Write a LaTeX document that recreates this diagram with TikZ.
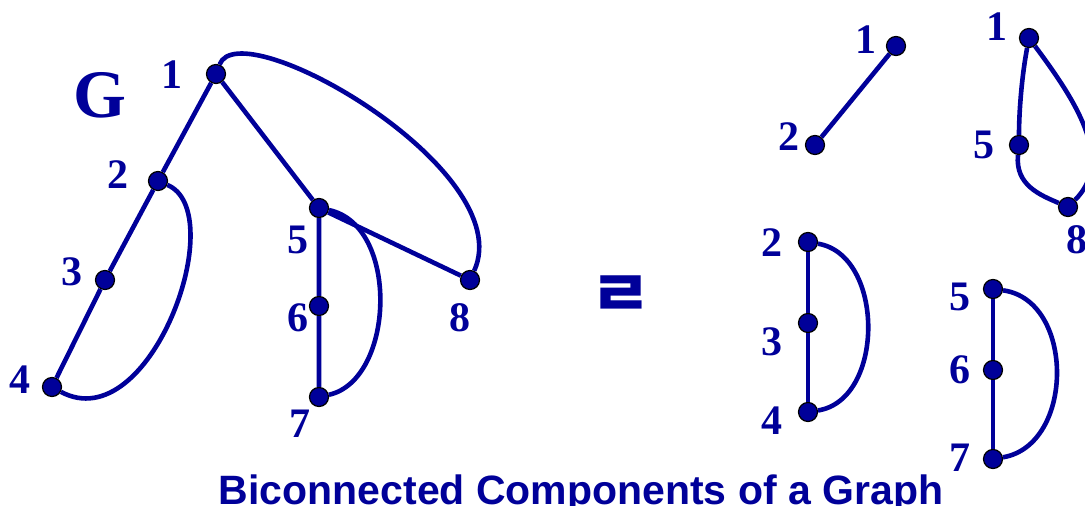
\documentclass[tikz,border=0pt]{standalone}
\usepackage{fontspec}
\setmainfont{Liberation Serif}
\setsansfont{Liberation Sans}
\newfontfamily\krfont{Noto Sans CJK KR}
\usetikzlibrary{positioning}
\definecolor{gblue}{RGB}{0,0,153}
\tikzset{
  vertex/.style={circle, draw=black, line width=1.2pt, fill=gblue, inner sep=0pt, minimum size=19pt},
  edge/.style={gblue, line width=4.6pt},
  num/.style={text=gblue, inner sep=0pt, font=\fontsize{42}{42}\selectfont\bfseries},
  bigname/.style={text=gblue, inner sep=0pt, font=\fontsize{68}{68}\selectfont\bfseries},
  caption/.style={text=gblue, inner sep=0pt, font=\fontsize{41}{41}\selectfont\sffamily\bfseries}
}
\begin{document}
\begin{tikzpicture}[x=1pt,y=-1pt]
  \useasboundingbox (0,0) rectangle (1085,506);
  % the graph G
  \node[bigname] (gname) at (100,95) {G};
  \node[vertex] (a1) at (216,74) {};
  \node[vertex] (a2) at (158,181) {};
  \node[vertex] (a3) at (105,280) {};
  \node[vertex] (a4) at (52,387) {};
  \node[vertex] (a5) at (319,208) {};
  \node[vertex] (a6) at (319,306) {};
  \node[vertex] (a7) at (319,397) {};
  \node[vertex] (a8) at (470,280) {};
  \draw[edge] (a1) -- (a2) -- (a3) -- (a4);
  \draw[edge] (a1) -- (a5) -- (a6) -- (a7);
  \draw[edge] (a5) -- (a8);
  \draw[edge] (a1) .. controls (240,10) and (520,170) .. (a8);
  \draw[edge] (a2) .. controls (232,212) and (150,440) .. (a4);
  \draw[edge] (a5) .. controls (400,225) and (395,380) .. (a7);
  \node[num] (la1) at (172,75) {1};
  \node[num] (la2) at (118,175) {2};
  \node[num] (la3) at (72,272) {3};
  \node[num] (la4) at (20,380) {4};
  \node[num] (la5) at (298,240) {5};
  \node[num] (la6) at (298,318) {6};
  \node[num] (la7) at (300,424) {7};
  \node[num] (la8) at (460,318) {8};
  % the sign in between
  \node[text=gblue, inner sep=0pt, xscale=1.05, font=\krfont\fontsize{64}{64}\selectfont\bfseries] (sign) at (621,297) {ㄹ};
  % component {1,2}
  \node[vertex] (b1) at (896,46) {};
  \node[vertex] (b2) at (815,145) {};
  \draw[edge] (b1) -- (b2);
  \node[num] (lb1) at (866,40) {1};
  \node[num] (lb2) at (789,137) {2};
  % component {1,5,8}
  \node[vertex] (c1) at (1029,38) {};
  \node[vertex] (c5) at (1019,145) {};
  \node[vertex] (c8) at (1068,207) {};
  \draw[edge] (c1) .. controls (1022,75) and (1019,110) .. (c5);
  \draw[edge] (c5) .. controls (1015,185) and (1040,195) .. (c8);
  \draw[edge] (c1) .. controls (1075,100) and (1115,160) .. (c8);
  \node[num] (lc1) at (997,27) {1};
  \node[num] (lc5) at (984,145) {5};
  \node[num] (lc8) at (1077,240) {8};
  % component {2,3,4}
  \node[vertex] (d2) at (808,242) {};
  \node[vertex] (d3) at (808,323) {};
  \node[vertex] (d4) at (808,412) {};
  \draw[edge] (d2) -- (d3) -- (d4);
  \draw[edge] (d2) .. controls (885,255) and (885,400) .. (d4);
  \node[num] (ld2) at (772,243) {2};
  \node[num] (ld3) at (772,342) {3};
  \node[num] (ld4) at (772,421) {4};
  % component {5,6,7}
  \node[vertex] (e5) at (993,289) {};
  \node[vertex] (e6) at (993,370) {};
  \node[vertex] (e7) at (993,459) {};
  \draw[edge] (e5) -- (e6) -- (e7);
  \draw[edge] (e5) .. controls (1075,300) and (1075,445) .. (e7);
  \node[num] (le5) at (960,297) {5};
  \node[num] (le6) at (960,370) {6};
  \node[num] (le7) at (960,458) {7};
  \node[caption, anchor=base] (title) at (581,504) {Biconnected Components of a Graph};
\end{tikzpicture}
\end{document}
